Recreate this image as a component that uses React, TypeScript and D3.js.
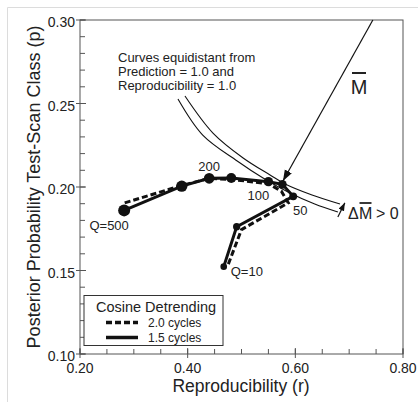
import * as d3 from "d3";
import React from "react";

// 1.5 cycles (solid line, big dots)
const solidR = [0.282, 0.389, 0.44, 0.481, 0.55, 0.576, 0.596, 0.491, 0.467];
const solidP = [0.186, 0.2005, 0.2052, 0.2054, 0.2032, 0.2016, 0.1944, 0.1762, 0.1523];
// 2.0 cycles (dashed)
const dashR = [0.283, 0.39, 0.44, 0.482, 0.55, 0.574, 0.587, 0.5, 0.474];
const dashP = [0.1905, 0.201, 0.2052, 0.2045, 0.202, 0.1975, 0.1905, 0.1745, 0.1525];
const pointLabels = ["Q=500", "", "200", "", "100", "", "50", "", "Q=10"];

// curves equidistant from prediction = 1.0 and reproducibility = 1.0
const outerR = [0.395, 0.447, 0.503, 0.553, 0.581, 0.631, 0.683];
const outerP = [0.2545, 0.2323, 0.2174, 0.2072, 0.2018, 0.1952, 0.1898];
const innerR = [0.382, 0.428, 0.492, 0.54, 0.59, 0.636, 0.679];
const innerP = [0.2527, 0.2311, 0.2156, 0.2054, 0.1964, 0.1898, 0.185];

// M-bar arrow and delta M-bar arrow (start, end)
const mArrowR = [0.744, 0.577];
const mArrowP = [0.3, 0.2036];
const dArrowR = [0.679, 0.692];
const dArrowP = [0.182, 0.1905];

const xTicks = [0.2, 0.4, 0.6, 0.8];
const yTicks = [0.1, 0.15, 0.2, 0.25, 0.3];
const legendItems = ["2.0 cycles", "1.5 cycles"];

const W = 418;
const H = 403;
const FONT = "'Liberation Sans', Arial, sans-serif";
const INK = "#222";

export default function App() {
  const x = d3.scaleLinear().domain([0.2, 0.8]).range([80, 403]);
  const y = d3.scaleLinear().domain([0.1, 0.3]).range([354, 20]);

  const line = d3
    .line<[number, number]>()
    .x((d) => x(d[0]))
    .y((d) => y(d[1]));
  const curve = d3
    .line<[number, number]>()
    .x((d) => x(d[0]))
    .y((d) => y(d[1]))
    .curve(d3.curveCatmullRom);

  const solid = solidR.map((r, i) => [r, solidP[i]] as [number, number]);
  const dashed = dashR.map((r, i) => [r, dashP[i]] as [number, number]);
  const outer = outerR.map((r, i) => [r, outerP[i]] as [number, number]);
  const inner = innerR.map((r, i) => [r, innerP[i]] as [number, number]);

  // dot size shrinks along the series
  const rad = d3.scaleLinear().domain([0, solid.length - 1]).range([6, 3.3]);

  // label offsets (px) relative to their point
  const labelOff: Record<number, [number, number, string]> = {
    0: [-15, 20, "middle"],
    2: [0, -7, "middle"],
    4: [-10, 18, "middle"],
    6: [7, 19, "middle"],
    8: [7, 9, "start"],
  };

  const minorX = x.ticks(12);
  const minorY = y.ticks(20);

  return (
    <svg
      width={W}
      height={H}
      style={{ position: "absolute", left: 0, top: 0, background: "#fff" }}
      fontFamily={FONT}
    >
      <defs>
        <marker
          id="headBig"
          markerUnits="userSpaceOnUse"
          markerWidth="12"
          markerHeight="10"
          refX="11"
          refY="4"
          orient="auto"
        >
          <path d="M0,0 L11,4 L0,8 Z" fill="#111" />
        </marker>
        <marker
          id="headSmall"
          markerUnits="userSpaceOnUse"
          markerWidth="9"
          markerHeight="8"
          refX="8"
          refY="3"
          orient="auto"
        >
          <path d="M0,0 L8,3 L0,6 Z" fill="#111" />
        </marker>
      </defs>

      {/* light outer border */}
      <path d="M7.5,402 V7.5 H418" fill="none" stroke="#dcdcdc" />

      {/* frame */}
      <rect x={80} y={20} width={323} height={334} fill="none" stroke="#555" />

      {/* ticks */}
      {minorX.map((t, i) => (
        <line key={"mx" + i} x1={x(t)} x2={x(t)} y1={354} y2={349} stroke="#555" />
      ))}
      {minorY.map((t, i) => (
        <line key={"my" + i} x1={80} x2={85} y1={y(t)} y2={y(t)} stroke="#555" />
      ))}
      {xTicks.map((t, i) => (
        <g key={"xt" + i}>
          <line x1={x(t)} x2={x(t)} y1={358} y2={348} stroke="#555" />
          <text x={x(t)} y={373} textAnchor="middle" fontSize={14} fill={INK}>
            {t.toFixed(2)}
          </text>
        </g>
      ))}
      {yTicks.map((t, i) => (
        <g key={"yt" + i}>
          <line x1={76} x2={86} y1={y(t)} y2={y(t)} stroke="#555" />
          <text x={75} y={y(t) + 7} textAnchor="end" fontSize={14} fill={INK}>
            {t.toFixed(2)}
          </text>
        </g>
      ))}

      {/* axis titles */}
      <text x={241} y={392} textAnchor="middle" fontSize={17.5} fill={INK}>
        Reproducibility (r)
      </text>
      <text
        transform={`translate(40, ${(20 + 354) / 2}) rotate(-90)`}
        textAnchor="middle"
        fontSize={18}
        fill={INK}
      >
        Posterior Probability Test-Scan Class (p)
      </text>

      {/* equidistant curves */}
      <path d={curve(outer) || ""} fill="none" stroke="#111" strokeWidth={1.1} />
      <path d={curve(inner) || ""} fill="none" stroke="#111" strokeWidth={1.1} />
      <g fontSize={13} fill={INK}>
        <text x={118} y={62}>Curves equidistant from</text>
        <text x={118} y={76}>Prediction = 1.0 and</text>
        <text x={118} y={90}>Reproducibility = 1.0</text>
      </g>

      {/* data series */}
      <path
        d={line(dashed) || ""}
        fill="none"
        stroke="#111"
        strokeWidth={3}
        strokeDasharray="6,3"
      />
      <path d={line(solid) || ""} fill="none" stroke="#111" strokeWidth={3} />
      {solid.map((d, i) => (
        <circle key={"pt" + i} cx={x(d[0])} cy={y(d[1])} r={rad(i)} fill="#111" />
      ))}
      {solid.map((d, i) => {
        const o = labelOff[i];
        if (!o || !pointLabels[i]) return null;
        return (
          <text
            key={"lb" + i}
            x={x(d[0]) + o[0]}
            y={y(d[1]) + o[1]}
            textAnchor={o[2] as any}
            fontSize={13}
            fill={INK}
          >
            {pointLabels[i]}
          </text>
        );
      })}

      {/* M-bar arrow */}
      <line
        x1={x(mArrowR[0])}
        y1={y(mArrowP[0])}
        x2={x(mArrowR[1])}
        y2={y(mArrowP[1])}
        stroke="#111"
        strokeWidth={1.2}
        markerEnd="url(#headBig)"
      />
      <text x={359} y={94} textAnchor="middle" fontSize={20} fill={INK}>
        M
      </text>
      <line x1={352} x2={366} y1={73} y2={73} stroke={INK} strokeWidth={2} />

      {/* delta M-bar arrow */}
      <line
        x1={x(dArrowR[0])}
        y1={y(dArrowP[0])}
        x2={x(dArrowR[1])}
        y2={y(dArrowP[1])}
        stroke="#111"
        strokeWidth={1.2}
        markerEnd="url(#headSmall)"
      />
      <g fontSize={16} fill={INK}>
        <text x={348} y={219}>Δ</text>
        <text x={359} y={219}>M</text>
        <text x={376} y={219}>&gt; 0</text>
      </g>
      <line x1={359.5} x2={371.5} y1={203} y2={203} stroke={INK} strokeWidth={1.8} />

      {/* legend */}
      <rect x={84} y={295.5} width={139} height={50} fill="#fff" stroke="#333" />
      <text x={156} y={312} textAnchor="middle" fontSize={14.5} fill={INK}>
        Cosine Detrending
      </text>
      {legendItems.map((name, i) => (
        <g key={"lg" + i}>
          <line
            x1={106}
            x2={138}
            y1={322.5 + i * 15}
            y2={322.5 + i * 15}
            stroke="#111"
            strokeWidth={3.5}
            strokeDasharray={i === 0 ? "6,3" : undefined}
          />
          <text x={148} y={326.5 + i * 15} fontSize={12} fill={INK}>
            {name}
          </text>
        </g>
      ))}
    </svg>
  );
}
